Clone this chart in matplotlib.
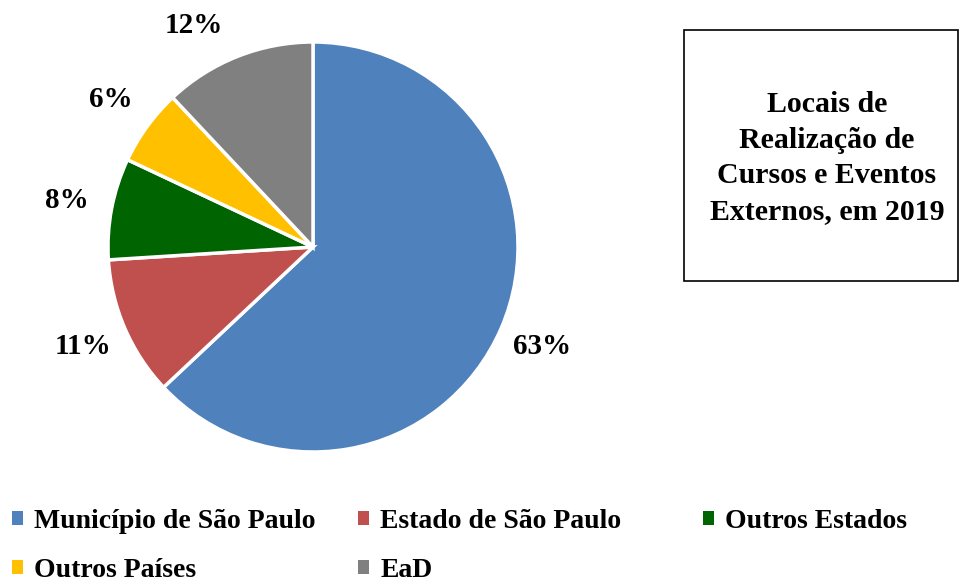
import matplotlib.pyplot as plt
from matplotlib.patches import Patch

# data
categories = ['Município de São Paulo', 'Estado de São Paulo', 'Outros Estados',
              'Outros Países', 'EaD']
values = [63, 11, 8, 6, 12]
colors = ['#4F81BD', '#C0504D', '#006400', '#FFC000', '#808080']
title = 'Locais de\nRealização de\nCursos e Eventos\nExternos, em 2019'

plt.rcParams['font.family'] = ['Liberation Serif', 'DejaVu Serif']
plt.rcParams['font.weight'] = 'bold'

W, H = 960, 584
fig = plt.figure(figsize=(W / 100, H / 100), dpi=100, facecolor='w')

# pie centred at about (313, 247) px, radius about 205 px
cx, cy, r = 313, 247, 205
ax = fig.add_axes([(cx - r) / W, (H - cy - r) / H, 2 * r / W, 2 * r / H])
wedges, texts, autotexts = ax.pie(values, colors=colors, startangle=90, counterclock=False,
                                  autopct='%1.0f%%', pctdistance=1.22, radius=1,
                                  wedgeprops=dict(edgecolor='white', linewidth=2.5),
                                  textprops=dict(fontsize=21, fontweight='bold'))
# Excel-style nudge of the top label
autotexts[4].set_position((-0.58, 1.08))
ax.set_xlim(-1, 1)
ax.set_ylim(-1, 1)
ax.set_aspect('equal')

# title box on the right
fig.patches.append(plt.Rectangle((684 / W, (H - 281) / H), 274 / W, 251 / H,
                                 transform=fig.transFigure, fill=False,
                                 edgecolor='black', linewidth=1.2))
fig.text(827 / W, (H - 158) / H, title, ha='center', va='center', fontsize=21.5,
         fontweight='bold', linespacing=1.4)

# legend, three columns at fixed positions
handles = [Patch(facecolor=c, edgecolor='none') for c in colors]
cols = [([0, 3], 12), ([1, 4], 358), ([2], 703)]
for idx, x in cols:
    fig.legend([handles[i] for i in idx], [categories[i] for i in idx],
               loc='upper left', bbox_to_anchor=(x / W, (H - 509) / H),
               frameon=False, fontsize=20, handlelength=0.4, handleheight=0.4,
               handletextpad=0.4, labelspacing=0.85, borderaxespad=0, borderpad=0)

fig.savefig('out.png', dpi=100)
